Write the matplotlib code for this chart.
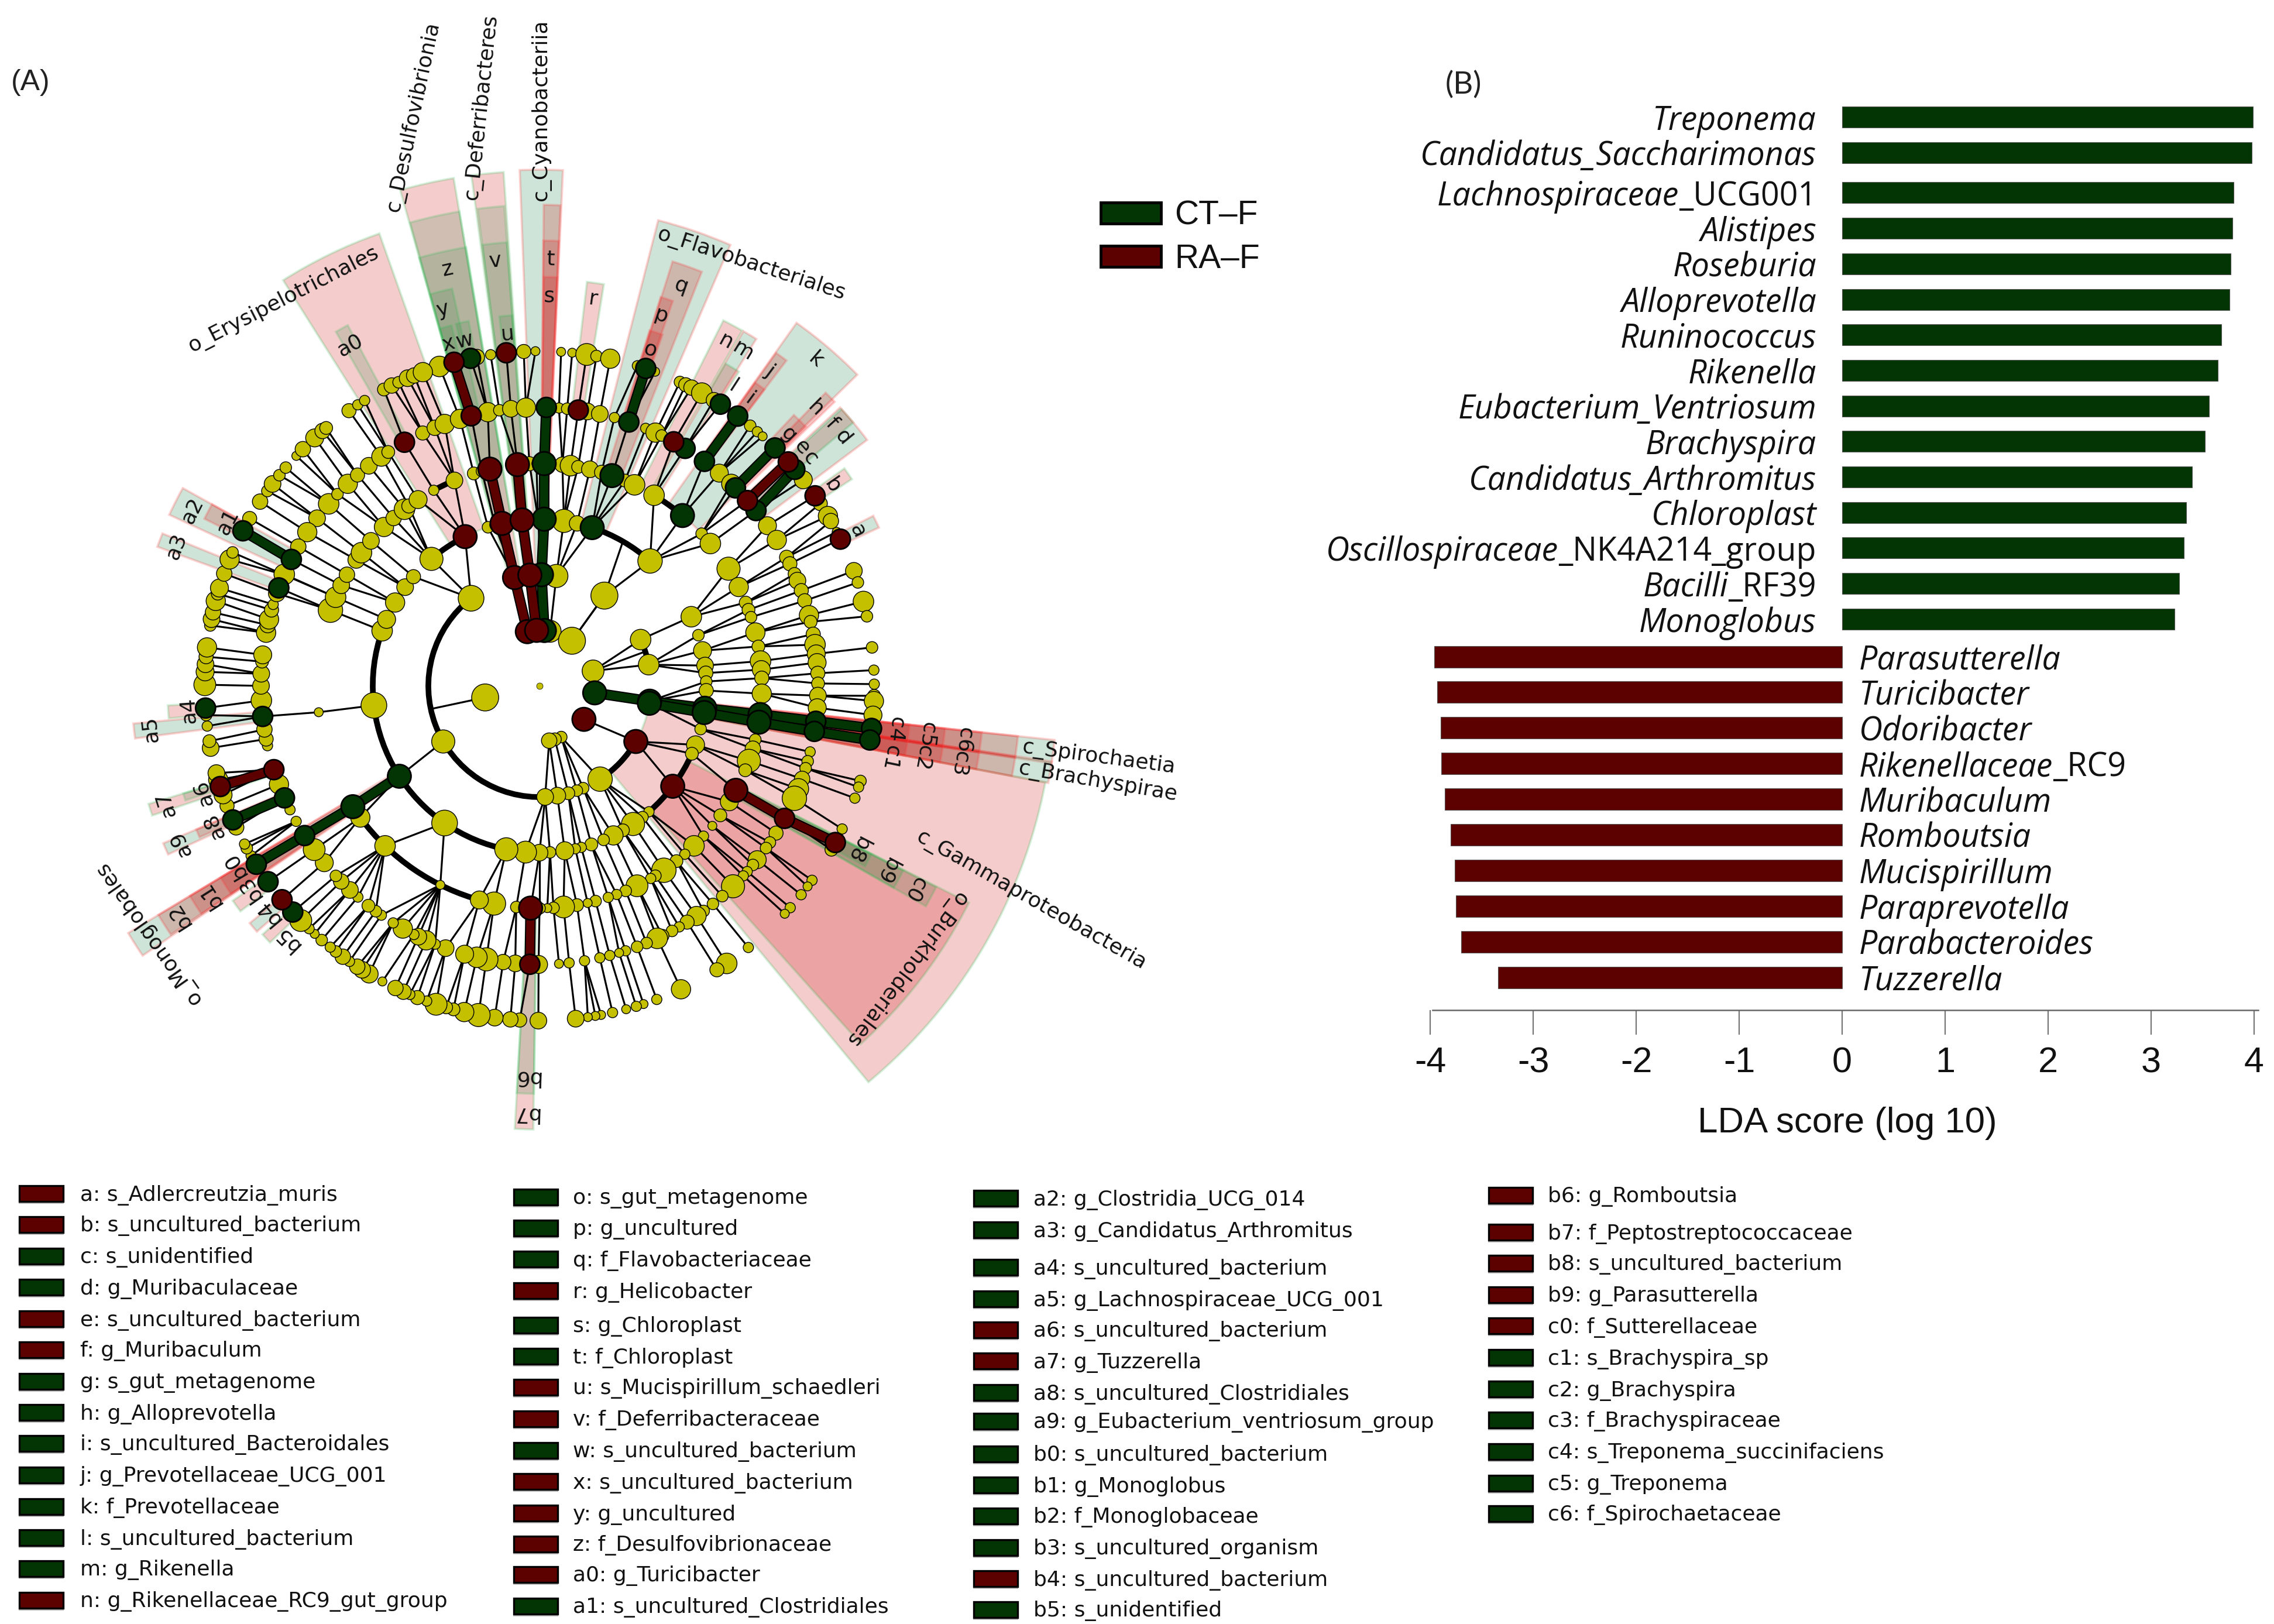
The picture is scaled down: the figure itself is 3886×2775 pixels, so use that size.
import math

import matplotlib
matplotlib.use('Agg')
import matplotlib.pyplot as plt
from matplotlib.collections import LineCollection
from matplotlib.patches import Rectangle, Wedge, Arc

GREEN = '#033403'
RED = '#5c0000'
YELLOW = '#c4c000'
FILL_RED = (0.8, 0.0, 0.0, 0.2)
FILL_GREEN = (0.05, 0.48, 0.24, 0.2)
FILL_GREEN_OVER = (0.12, 0.48, 0.2, 0.16)
EDGE_RED = (1.0, 0.25, 0.25, 0.24)
EDGE_GREEN = (0.2, 0.75, 0.35, 0.22)

# ---- panel B values ----
up_names = [('Treponema', ''), ('Candidatus_Saccharimonas', ''), ('Lachnospiraceae', '_UCG001'),
            ('Alistipes', ''), ('Roseburia', ''), ('Alloprevotella', ''), ('Runinococcus', ''),
            ('Rikenella', ''), ('Eubacterium_Ventriosum', ''), ('Brachyspira', ''),
            ('Candidatus_Arthromitus', ''), ('Chloroplast', ''),
            ('Oscillospiraceae', '_NK4A214_group'), ('Bacilli', '_RF39'), ('Monoglobus', '')]
up_scores = [3.99, 3.98, 3.80, 3.79, 3.77, 3.76, 3.68, 3.65, 3.56, 3.52, 3.40, 3.34, 3.32, 3.27, 3.23]
down_names = [('Parasutterella', ''), ('Turicibacter', ''), ('Odoribacter', ''), ('Rikenellaceae', '_RC9'),
              ('Muribaculum', ''), ('Romboutsia', ''), ('Mucispirillum', ''), ('Paraprevotella', ''),
              ('Parabacteroides', ''), ('Tuzzerella', '')]
down_scores = [-3.96, -3.93, -3.90, -3.89, -3.86, -3.80, -3.76, -3.75, -3.70, -3.34]
score_ticks = [-4, -3, -2, -1, 0, 1, 2, 3, 4]

# ---- bottom key, one list per column: label and which group it belongs to ----
key_col1 = ['a: s_Adlercreutzia_muris', 'b: s_uncultured_bacterium', 'c: s_unidentified', 'd: g_Muribaculaceae',
            'e: s_uncultured_bacterium', 'f: g_Muribaculum', 'g: s_gut_metagenome', 'h: g_Alloprevotella',
            'i: s_uncultured_Bacteroidales', 'j: g_Prevotellaceae_UCG_001', 'k: f_Prevotellaceae',
            'l: s_uncultured_bacterium', 'm: g_Rikenella', 'n: g_Rikenellaceae_RC9_gut_group']
key_col1_group = 'rrggrrgggggggr'
key_col1_y = [2040, 2093, 2147, 2200, 2254, 2307, 2361, 2414, 2467, 2521, 2575, 2628, 2681, 2735]
key_col2 = ['o: s_gut_metagenome', 'p: g_uncultured', 'q: f_Flavobacteriaceae', 'r: g_Helicobacter', 's: g_Chloroplast',
            't: f_Chloroplast', 'u: s_Mucispirillum_schaedleri', 'v: f_Deferribacteraceae', 'w: s_uncultured_bacterium',
            'x: s_uncultured_bacterium', 'y: g_uncultured', 'z: f_Desulfovibrionaceae', 'a0: g_Turicibacter',
            'a1: s_uncultured_Clostridiales']
key_col2_group = 'gggrggrrgrrrrg'
key_col2_y = [2046, 2099, 2152, 2206, 2265, 2318, 2371, 2425, 2479, 2532, 2586, 2639, 2691, 2745]
key_col3 = ['a2: g_Clostridia_UCG_014', 'a3: g_Candidatus_Arthromitus', 'a4: s_uncultured_bacterium',
            'a5: g_Lachnospiraceae_UCG_001', 'a6: s_uncultured_bacterium', 'a7: g_Tuzzerella',
            'a8: s_uncultured_Clostridiales', 'a9: g_Eubacterium_ventriosum_group', 'b0: s_uncultured_bacterium',
            'b1: g_Monoglobus', 'b2: f_Monoglobaceae', 'b3: s_uncultured_organism', 'b4: s_uncultured_bacterium',
            'b5: s_unidentified']
key_col3_group = 'ggggrrggggggrg'
key_col3_y = [2048, 2102, 2166, 2220, 2273, 2326, 2380, 2429, 2485, 2538, 2591, 2645, 2698, 2751]
key_col4 = ['b6: g_Romboutsia', 'b7: f_Peptostreptococcaceae', 'b8: s_uncultured_bacterium', 'b9: g_Parasutterella',
            'c0: f_Sutterellaceae', 'c1: s_Brachyspira_sp', 'c2: g_Brachyspira', 'c3: f_Brachyspiraceae',
            'c4: s_Treponema_succinifaciens', 'c5: g_Treponema', 'c6: f_Spirochaetaceae']
key_col4_group = 'rrrrrgggggg'
key_col4_y = [2043, 2106, 2159, 2213, 2266, 2320, 2374, 2427, 2481, 2535, 2587]

# ---- cladogram nodes: (angle clockwise from top in degrees, node diameter) per ring ----
ring1 = [(11, 34), (35.7, 42), (74.4, 34), (157, 18), (164, 20), (170, 24), (258, 42)]
ring2 = [(8.7, 36), (35.7, 42), (65.4, 32), (79, 32), (147, 38), (156.9, 18), (160.4, 18), (165, 20), (170.8, 26),
         (177.1, 26), (240, 36), (322, 40)]
ring3 = [(-18, 18), (-15.5, 16), (-0.5, 14), (8.4, 36), (13, 24), (41.5, 38), (65.5, 32), (72.3, 18),
         (77.8, 28), (83, 26), (85.6, 22), (88.5, 18), (91.6, 22), (105, 18), (110.7, 28), (114, 20),
         (139, 16), (141.9, 18), (145.9, 36), (150, 20), (153.7, 30), (157.4, 18), (161.9, 20), (165.5, 16),
         (167.6, 16), (171.3, 28), (176.4, 18), (180, 26), (184.8, 34), (191.5, 36), (214.7, 40), (263.3, 40),
         (289.3, 32), (293.5, 28), (300, 30), (306.3, 26), (310.9, 22), (319.6, 36)]
ring4 = [(-28.4, 16), (-22.5, 26), (-17.2, 20), (-15, 18), (-2.6, 22), (-0.8, 14), (5.9, 24), (8, 32), (10, 20), (13.1, 26),
         (16.2, 22), (22.6, 20), (25.3, 32), (31, 32), (46.8, 18), (50.2, 32), (58.2, 36), (63.6, 30), (68, 20), (70, 20),
         (72, 18), (76.1, 30), (79.8, 20), (83.6, 32), (85.8, 28), (88, 22), (92, 30), (104, 18), (106.4, 24), (109.7, 36),
         (112.3, 20), (121.4, 28), (125.6, 20), (129, 14), (132.5, 16), (136, 32), (139.2, 16), (142, 20), (146, 38),
         (148.6, 18), (150, 16), (154, 34), (157.2, 18), (159.7, 16), (162, 16), (165.4, 18), (167.5, 14), (170.3, 20),
         (173.8, 34), (176.4, 18), (178, 14), (180, 18), (186, 18), (191.8, 36), (195.7, 28), (206.5, 14), (224, 32),
         (233.7, 30), (263.2, 14), (289.9, 38), (293.5, 32), (296.9, 26), (300, 24), (304.5, 26), (306.8, 32),
         (310.7, 26), (315.6, 30), (319, 24), (322.6, 32), (324, 22), (326.9, 28)]
ring5 = [(-49.2, 32), (-53, 26), (-56.5, 30), (-60, 24), (-66.5, 24), (-46.5, 18), (-43.5, 30), (-40.8, 22), (-37.8, 26),
         (-34.6, 30), (-32.9, 20), (-24.8, 22), (-22.1, 24), (-19.9, 30), (-16.6, 30), (-10.7, 30), (-8.3, 18), (-5.9, 26),
         (-2.8, 30), (4, 16), (5.7, 18), (9.9, 26), (12.5, 26), (15.6, 16), (22.4, 16), (24.6, 30), (26, 18), (40.2, 28),
         (43.5, 30), (54.9, 28), (58.4, 30), (62.5, 22), (64, 22), (66.3, 20), (67.8, 26), (70, 22), (72.2, 22), (75.3, 30),
         (76.7, 20), (79.3, 22), (81.5, 32), (83.4, 28), (85.2, 28), (87.4, 22), (89.5, 20), (92, 26), (94.5, 28), (103.7, 16),
         (105.7, 18), (107.2, 18), (109.5, 24), (111.7, 32), (113.8, 38), (121.9, 22), (124.2, 18), (125.6, 18), (128.6, 28),
         (130, 18), (131.8, 16), (133, 16), (136, 36), (139, 18), (141.5, 18), (143.9, 18), (145.7, 30), (148, 22), (149.9, 16),
         (151.6, 18), (153.8, 20), (155, 32), (157.4, 18), (159.5, 18), (162, 16), (163.4, 14), (165.4, 16), (167.5, 16),
         (170.7, 16), (173.9, 16), (176, 14), (180.2, 28), (185, 26), (187.5, 24), (191, 36), (193, 32), (195.6, 28), (199.7, 26),
         (202, 16), (204, 30), (205.8, 26), (206.8, 16), (209.4, 30), (211.7, 16), (214.6, 16), (216, 18), (217.9, 20),
         (220.7, 16), (222.9, 26), (225.4, 24), (227, 18), (230.6, 28), (234, 34), (240.9, 16), (243.6, 16), (249.3, 30), (257.6, 16),
         (259, 22), (261, 24), (267, 32), (270, 26), (272.5, 26), (275, 20), (276.4, 28), (281, 30), (282.6, 24), (283.8, 30), (285.8, 22),
         (287, 16), (289.4, 26), (293.6, 32)]
ring6 = [(-17.4, 32), (-10.8, 24), (-8.4, 16), (-2.7, 22), (-0.7, 14), (3.7, 14), (5.6, 14), (8.1, 34), (9.8, 18), (12.2, 30),
         (17, 16), (20.2, 14), (24.8, 18), (25.9, 22), (27, 24), (29, 32), (31.4, 24), (39, 18), (40.6, 16), (41.8, 14),
         (52, 28), (57, 22), (59.5, 30), (60.5, 24), (62.6, 14), (69.9, 26), (72, 18), (75.4, 32), (78, 18), (83.4, 18),
         (87.3, 16), (89.7, 16), (91.7, 20), (92.6, 30), (95, 28), (106.5, 18), (107.6, 16), (109.6, 16), (115.3, 16), (119.3, 20),
         (125.5, 16), (126.8, 14), (128.6, 16), (131.5, 16), (132.9, 14), (141.4, 16), (146, 32), (148, 22), (155, 30), (159.5, 16),
         (161.9, 14), (163.2, 16), (165, 14), (167.4, 16), (169.4, 14), (170.4, 14), (171.7, 14), (173.8, 26), (180.2, 26), (183.4, 22),
         (185, 24), (187.7, 26), (190.5, 36), (193, 30), (194.9, 20), (196.2, 20), (198, 34), (199.7, 16), (201.4, 22), (202.8, 16),
         (204, 24), (205.5, 24), (208, 14), (210.6, 28), (212, 26), (213, 24), (214.6, 16), (216, 24), (217.5, 18), (218.7, 16),
         (220.6, 18), (222.2, 14), (223.5, 16), (225.5, 34), (238.5, 18), (239.5, 16), (241, 18), (241.8, 16), (245, 24), (249, 22),
         (251, 28), (253.7, 30), (254.9, 26), (259.3, 26), (260.5, 20), (263.1, 16), (265, 18), (270.2, 34), (272.4, 28), (273.7, 26),
         (275, 22), (276.6, 30), (280.4, 18), (281.5, 26), (282.7, 24), (284.7, 30), (286, 20), (287, 28), (289.6, 24), (292.2, 30),
         (293.5, 18), (300, 22), (303.4, 24), (305.6, 18), (307.1, 26), (309, 18), (310.7, 18), (313.4, 14), (315, 24), (317.8, 28),
         (319.6, 24), (320.4, 20), (325.3, 22), (327.1, 16), (328.5, 16), (332.3, 20), (333.8, 24), (335.1, 18), (336.8, 26), (338, 24),
         (339.6, 30)]
yellow_rings = [ring1, ring2, ring3, ring4, ring5, ring6]

# significant clades: chains of (ring, angle), a one item chain has no thick link
green_chains = [[(1, 5), (2, 1), (3, 1.6), (4, 1.2), (5, 1.4)], [(3, 18.4)], [(4, 19)], [(5, 18.7), (6, 18.5)],
                [(4, 40)], [(5, 36.3), (6, 36.3)], [(5, 44.7), (6, 44.7)], [(5, 51), (6, 49.7)], [(5, 31.5)], [(6, 32.7)],
                [(6, -11.9)], [(5, -63), (6, -62.4)], [(5, -69.4)], [(5, -96.3)], [(6, -93.8)], [(5, -113.7), (6, -113.6)],
                [(3, -122.8), (4, -122.9), (5, -122.5), (6, -122.2)], [(6, -125.8)], [(6, -132.5)],
                [(1, 97.2), (2, 97.9), (3, 97.7), (4, 97.4), (5, 97.3), (6, 97.3)],
                [(2, 99), (3, 99.2), (4, 99.4), (5, 99.4), (6, 99.3)]]
red_chains = [[(1, -12.7), (2, -13), (3, -13), (4, -12.9)], [(5, -14.2), (6, -14.8)],
              [(1, -3), (2, -5), (3, -6), (4, -5.7)], [(6, -5.7)], [(5, 8)], [(3, -26.5)], [(5, -29)], [(5, 28.8)],
              [(5, 48.3), (6, 48)], [(6, 55.4)], [(6, 64)], [(5, -107.5), (6, -107.5)], [(6, -129.7)],
              [(4, 182.3), (5, 182)], [(1, 127)], [(2, 120)], [(3, 127)], [(4, 118), (5, 118.4), (6, 117.9)]]

# thick curved branches: ring radius index, start and end angle
branch_arcs = [(2, 177, 322), (3, 191, 286), (4, 195, 233.7), (3, -40.4, -26.5), (3, 18.4, 41.5), (2, 120, 147), (3, 114, 139),
               (4, 31, 40), (2, 65.4, 79), (4, -28.4, -22.5)]
# straight spokes that run from a node out to a curved branch
branch_spokes = [(1, 258, 2, 258), (2, 35.7, 3, 30), (1, 35.7, 2, 35.7), (1, 74.4, 2, 72)]
# ring 5 stretches on the left whose nodes show no link back to ring 4
unlinked_ring5 = [(240, 262), (265, 288)]

# shaded sectors: start angle, end angle, inner radius, outer radius
red_sectors = [(-15.7, -9.6, 190, 880), (-7.6, -4, 190, 880), (6.7, 9.1, 476, 695), (-32.3, -19.5, 285, 820),
               (100.8, 140.3, 190, 880), (116.8, 138.1, 285, 822), (26.7, 29.7, 380, 699), (30, 32.4, 572, 636),
               (-108.5, -106.8, 476, 698), (-127, -125, 572, 640), (-133.6, -131.9, 572, 636), (180.8, 183.2, 380, 758),
               (-95, -93, 572, 636), (54.5, 56.5, 572, 640), (47.5, 50, 476, 700)]
green_sectors = [(-2.2, 2.6, 190, 882), (14.3, 23.4, 285, 821), (35.3, 45.6, 380, 760), (47.2, 53.1, 476, 700),
                 (29.9, 32, 380, 699), (-65.2, -61, 476, 697), (-70, -68, 476, 695), (-97.4, -95.3, 476, 697),
                 (-114.4, -112.7, 476, 697), (-124.2, -121, 285, 820), (96, 98.6, 190, 885), (98.4, 100.8, 190, 885),
                 (63, 65, 572, 640), (-131, -129.3, 572, 640)]
green_on_red = [(-15.6, -9.6, 285, 822), (-15.7, -9.5, 380, 760), (-15.6, -12.4, 476, 695), (-15.6, -13.7, 572, 634),
                (-13, -11, 572, 635), (-7.4, -4.2, 285, 822), (-7.4, -4.2, 380, 760), (-6.2, -4.2, 572, 635),
                (-29.9, -28, 476, 698), (116.9, 119.7, 380, 760), (116.9, 119.7, 476, 697), (116.9, 119, 572, 636),
                (-107.9, -106.8, 572, 636), (180.8, 183.2, 476, 697)]
red_on_green = [(0.5, 2.5, 285, 822), (0.5, 2.5, 380, 761), (0.6, 2.5, 476, 699), (17.4, 21.4, 380, 760), (17.3, 19.1, 476, 696),
                (17.2, 19.3, 572, 636), (35.4, 37.2, 476, 698), (35.4, 37.2, 572, 636), (44.3, 46.1, 476, 700), (43.2, 45.8, 572, 635),
                (-63.5, -61, 572, 640), (-114, -112.7, 572, 636), (-124, -121, 380, 760), (-124, -121, 476, 697), (-124, -121, 572, 636),
                (96, 98.6, 285, 822), (96, 98.6, 380, 760), (96, 98.6, 476, 697), (96, 98.6, 572, 636),
                (98.4, 100.8, 285, 822), (98.4, 100.8, 380, 760), (98.4, 100.8, 476, 697), (98.4, 100.8, 572, 636)]

# letters sit tangent to the circle: text, angle, radius
letter_labels = [('z', -12.5, 729), ('v', -5.9, 730), ('t', 1.5, 729), ('s', 1.4, 666), ('r', 7.9, 667), ('y', -14.4, 664),
                 ('x', -14.9, 605), ('w', -12.3, 604), ('u', -5.2, 604), ('q', 19.5, 725), ('p', 18.2, 666), ('o', 18.3, 605),
                 ('a0', -29.1, 666), ('n', 28.4, 669), ('m', 31.3, 670), ('l', 32.9, 610), ('k', 40.3, 730), ('j', 36.2, 666),
                 ('i', 36.3, 608), ('h', 44.9, 669), ('g', 44.8, 605), ('f', 48, 671), ('d', 50.7, 671), ('e', 47.8, 607),
                 ('c', 50, 605), ('b', 55.6, 607), ('a', 64, 605), ('a1', -62.2, 602), ('a2', -63.2, 665), ('a3', -69, 665),
                 ('a4', -93.9, 602), ('a5', -96.3, 669), ('a6', -107.6, 603), ('a7', -107.5, 670), ('a8', -113.3, 606),
                 ('a9', -113.7, 670), ('b0', -120.5, 605), ('b1', -122.4, 667), ('b2', -122.5, 731), ('b3', -124.9, 605),
                 ('b4', -129.8, 604), ('b5', -135, 611), ('b6', 181.9, 669), ('b7', 181.9, 731), ('b8', 117.3, 612),
                 ('b9', 118.1, 672), ('c0', 118.5, 730), ('c4', 97, 613), ('c5', 97.2, 668), ('c6', 97.3, 732),
                 ('c1', 101.6, 612), ('c2', 100.6, 667), ('c3', 100.5, 731)]
# longer names: text, centre x, centre y, rotation
clade_labels = [('c_Desulfovibrionia', 706, 200, 78), ('c_Deferribacteres', 822, 183, 84), ('c_Cyanobacteriia', 924, 188, 90),
                ('o_Erysipelotrichales', 484, 512, 27), ('o_Flavobacteriales', 1284, 451, -18), ('c_Spirochaetia', 1878, 1294, -7.6),
                ('c_Brachyspirae', 1876, 1336, -9.6), ('c_Gammaproteobacteria', 1762, 1538, -29.7),
                ('o_Burkholderiales', 1548, 1656, -127), ('o_Monoglobales', 254, 1595, 125)]

CX, CY = 922, 1172
RING_R = [0, 95, 190, 285, 380, 476, 572]


def to_xy(radius, angle):
    a = math.radians(angle)
    return CX + radius * math.sin(a), CY - radius * math.cos(a)


def angle_gap(a, b):
    return abs((a - b + 180) % 360 - 180)


def disc_size(px):
    return (px * 0.72) ** 2


fig = plt.figure(figsize=(38.86, 27.75), dpi=100)
ax = fig.add_axes([0, 0, 1, 1])
ax.set_xlim(0, 3886)
ax.set_ylim(2775, 0)
ax.axis('off')

# sectors, biggest first so the nested ones end up on top
sector_sets = [(red_sectors, FILL_RED, EDGE_GREEN), (green_sectors, FILL_GREEN, EDGE_RED),
               (green_on_red, FILL_GREEN_OVER, EDGE_GREEN), (red_on_green, FILL_RED, EDGE_RED)]
all_sectors = []
for sectors, fill, edge in sector_sets:
    for s in sectors:
        all_sectors.append((s, fill, edge))
all_sectors.sort(key=lambda item: -item[0][3])
for (t1, t2, r_in, r_out), fill, edge in all_sectors:
    ax.add_patch(Wedge((CX, CY), r_out, t1 - 90, t2 - 90, width=r_out - r_in, facecolor=fill, edgecolor=edge, lw=2.8, zorder=1))

# every node on a ring, for the thin links
ring_nodes = {k + 1: [t for t, d in yellow_rings[k]] for k in range(6)}
thick_pairs = set()
for chains in (green_chains, red_chains):
    for chain in chains:
        for ring, t in chain:
            ring_nodes[ring].append(t)
        for (r0, t0), (r1, t1) in zip(chain, chain[1:]):
            thick_pairs.add((r1, t1))

segments = []
for ring in range(2, 7):
    for t in ring_nodes[ring]:
        if (ring, t) in thick_pairs:
            continue
        if ring == 5 and any(lo <= t % 360 <= hi for lo, hi in unlinked_ring5):
            continue
        parent = min(ring_nodes[ring - 1], key=lambda p: angle_gap(p, t))
        if angle_gap(parent, t) > 14:
            continue
        segments.append([to_xy(RING_R[ring - 1], parent), to_xy(RING_R[ring], t)])
for r0, t0, r1, t1 in branch_spokes:
    segments.append([to_xy(RING_R[r0], t0), to_xy(RING_R[r1], t1)])
ax.add_collection(LineCollection(segments, colors='black', linewidths=2.3, zorder=2))

for ring, t1, t2 in branch_arcs:
    rad = RING_R[ring]
    ax.add_patch(Arc((CX, CY), 2 * rad, 2 * rad, theta1=t1 - 90, theta2=t2 - 90, color='black', lw=7, zorder=2))

for chains, colour in ((green_chains, GREEN), (red_chains, RED)):
    for chain in chains:
        if len(chain) > 1:
            xs, ys = zip(*[to_xy(RING_R[r], t) for r, t in chain])
            ax.plot(xs, ys, color='black', lw=13, solid_capstyle='butt', zorder=3)
            ax.plot(xs, ys, color=colour, lw=10, solid_capstyle='butt', zorder=3)

# yellow nodes from the outer ring inward, coloured ones above them
for k in range(5, -1, -1):
    pts = [to_xy(RING_R[k + 1], t) for t, d in yellow_rings[k]]
    ax.scatter([p[0] for p in pts], [p[1] for p in pts], s=[disc_size(d * 1.1) for t, d in yellow_rings[k]],
               c=YELLOW, edgecolors='black', linewidths=1.0, zorder=4)
ax.scatter([CX], [CY], s=disc_size(11), c=YELLOW, edgecolors='black', linewidths=0.5, zorder=4)

for chains, colour in ((green_chains, GREEN), (red_chains, RED)):
    pts = [(to_xy(RING_R[r], t), r) for chain in chains for r, t in chain]
    sizes = [disc_size(40 if r <= 4 else 34) for p, r in pts]
    ax.scatter([p[0][0] for p in pts], [p[0][1] for p in pts], s=sizes, c=colour, edgecolors='black', linewidths=2.0, zorder=5)

for text, t, rad in letter_labels:
    x, y = to_xy(rad, t)
    ax.text(x, y, text, fontsize=26, rotation=-t, rotation_mode='anchor', ha='center', va='center', color='#111111', zorder=6)
for text, x, y, rot in clade_labels:
    ax.text(x, y, text, fontsize=26, rotation=rot, rotation_mode='anchor', ha='center', va='center', color='#111111', zorder=6)

ax.text(52, 141, '(A)', fontsize=36, family='Liberation Sans', ha='center', va='center', color='#222222')
ax.text(2501, 145, '(B)', fontsize=38, family='Lato', ha='center', va='center', color='#222222')

# group legend
for y, colour, name in ((364, GREEN, 'CT\u2013F'), (438, RED, 'RA\u2013F')):
    ax.add_patch(Rectangle((1881, y - 18), 103, 36, facecolor=colour, edgecolor='black', lw=3.5))
    ax.text(2007, y + 5, name, fontsize=41, family='Liberation Sans', ha='left', va='center', color='#111111')

# bottom key
key_cols = [(key_col1, key_col1_group, key_col1_y, 32, 137), (key_col2, key_col2_group, key_col2_y, 877, 979),
            (key_col3, key_col3_group, key_col3_y, 1663, 1766), (key_col4, key_col4_group, key_col4_y, 2543, 2645)]
for names, groups, ys, x_box, x_text in key_cols:
    for name, group, y in zip(names, groups, ys):
        colour = GREEN if group == 'g' else RED
        ax.add_patch(Rectangle((x_box, y - 12), 77, 29, facecolor='#bbbbbb', edgecolor='none'))
        ax.add_patch(Rectangle((x_box + 1, y - 14), 75, 27, facecolor=colour, edgecolor='black', lw=2.4))
        ax.text(x_text, y + 2, name, fontsize=26, ha='left', va='center', color='#111111')

# panel B, x follows the score, y stays in picture pixels
SCALE = 176.0
ZERO = 3148.0
bx = fig.add_axes([0, 0, 1, 1], facecolor='none')
bx.set_xlim(-ZERO / SCALE, (3886 - ZERO) / SCALE)
bx.set_ylim(2775, 0)
for side in ('left', 'right', 'top'):
    bx.spines[side].set_visible(False)
bx.yaxis.set_visible(False)

up_rows = [200 + 60.7 * i + (8 if i >= 2 else 0) for i in range(len(up_scores))]
down_rows = [1122 + 60.9 * i for i in range(len(down_scores))]
bx.barh(up_rows, up_scores, height=36, color=GREEN, edgecolor='#555555', lw=0.8)
bx.barh(down_rows, down_scores, height=37, color=RED, edgecolor='#555555', lw=0.8)

bx.spines['bottom'].set_position(('data', 1726))
bx.spines['bottom'].set_bounds(-3.98, 4.04)
bx.spines['bottom'].set_color('#666666')
bx.spines['bottom'].set_linewidth(1.8)
bx.set_xticks(score_ticks)
bx.set_xticklabels([str(v) for v in score_ticks], fontsize=44, family='Liberation Sans', color='#111111')
bx.tick_params(axis='x', length=30, width=1.6, color='#777777', pad=15, direction='out')
bx.text(0.05, 1919, 'LDA score (log 10)', fontsize=44.5, family='Liberation Sans', ha='center', va='center', color='#111111')

renderer = fig.canvas.get_renderer()


def two_part_label(axis, x_px, y, italic, plain, ha):
    # italic name followed by an optional upright suffix
    x = (x_px - ZERO) / SCALE
    style = dict(fontsize=40, family='Open Sans', va='center_baseline', color='#111111')
    if ha == 'right':
        if plain:
            t = axis.text(x, y, plain, ha='right', **style)
            x -= t.get_window_extent(renderer).width / SCALE
        axis.text(x, y, italic, ha='right', style='italic', **style)
    else:
        t = axis.text(x, y, italic, ha='left', style='italic', **style)
        if plain:
            x += t.get_window_extent(renderer).width / SCALE
            axis.text(x, y, plain, ha='left', **style)


for (italic, plain), y in zip(up_names, up_rows):
    two_part_label(bx, 3104, y, italic, plain, 'right')
for (italic, plain), y in zip(down_names, down_rows):
    two_part_label(bx, 3177, y, italic, plain, 'left')

fig.savefig('out.png', dpi=100, facecolor='white')
